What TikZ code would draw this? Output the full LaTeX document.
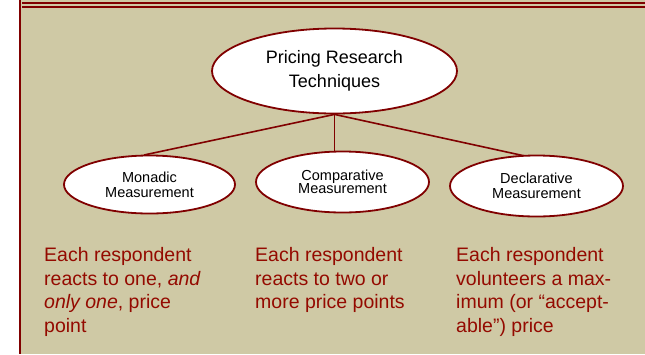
\documentclass[tikz,border=0pt]{standalone}
\usepackage{fontspec}
\setmainfont{Liberation Sans}
\usetikzlibrary{shapes.geometric}
\definecolor{frame}{RGB}{128,0,0}
\definecolor{paper}{RGB}{207,201,165}
\definecolor{note}{RGB}{148,10,0}

\begin{document}
\begin{tikzpicture}[x=1pt,y=-1pt,
  oval/.style={ellipse, draw=frame, line width=1.8pt, fill=white,
    inner sep=0pt, align=center, text=black},
  link/.style={draw=frame, line width=1.6pt},
  notetext/.style={anchor=north west, inner sep=0pt, align=left, text=note,
    font=\fontsize{19.5}{23.8}\selectfont}]
\useasboundingbox (0,0) rectangle (645,354);

% page background and frame
\fill[paper] (21,0) rectangle (645,354);
\draw[frame, line width=2pt] (20,0) -- (20,354);
\draw[frame, line width=1.9pt] (22,2.8) -- (645,2.8);
\draw[frame, line width=1.9pt] (22,6.8) -- (645,6.8);

% tree of techniques
\node[oval, minimum width=245pt, minimum height=85pt,
  font=\fontsize{18}{24}\selectfont] (root) at (334.5,71)
  {Pricing Research\\Techniques};
\coordinate (hub) at (root.south);

\draw[link] (hub) -- (144,155);
\draw[link] (hub) -- (hub |- 0,152);
\draw[link] (hub) -- (525,156);

\node[oval, minimum width=171pt, minimum height=58pt,
  font=\fontsize{14.5}{15}\selectfont] (mon) at (149.5,184.5)
  {Monadic\\Measurement};
\node[oval, minimum width=173pt, minimum height=61pt,
  font=\fontsize{14.5}{13.5}\selectfont] (cmp) at (342.5,182)
  {Comparative\\Measurement};
\node[oval, minimum width=173pt, minimum height=61pt,
  font=\fontsize{14.5}{15}\selectfont] (dec) at (536.5,186)
  {Declarative\\Measurement};

% descriptions
\node[notetext] (monnote) at (44,247)
  {Each respondent\\reacts to one, \textit{and}\\\textit{only one}, price\\point};
\node[notetext] (cmpnote) at (255,247)
  {Each respondent\\reacts to two or\\more price points};
\node[notetext] (decnote) at (456,247)
  {Each respondent\\volunteers a max-\\imum (or “accept-\\able”) price};
\end{tikzpicture}
\end{document}
